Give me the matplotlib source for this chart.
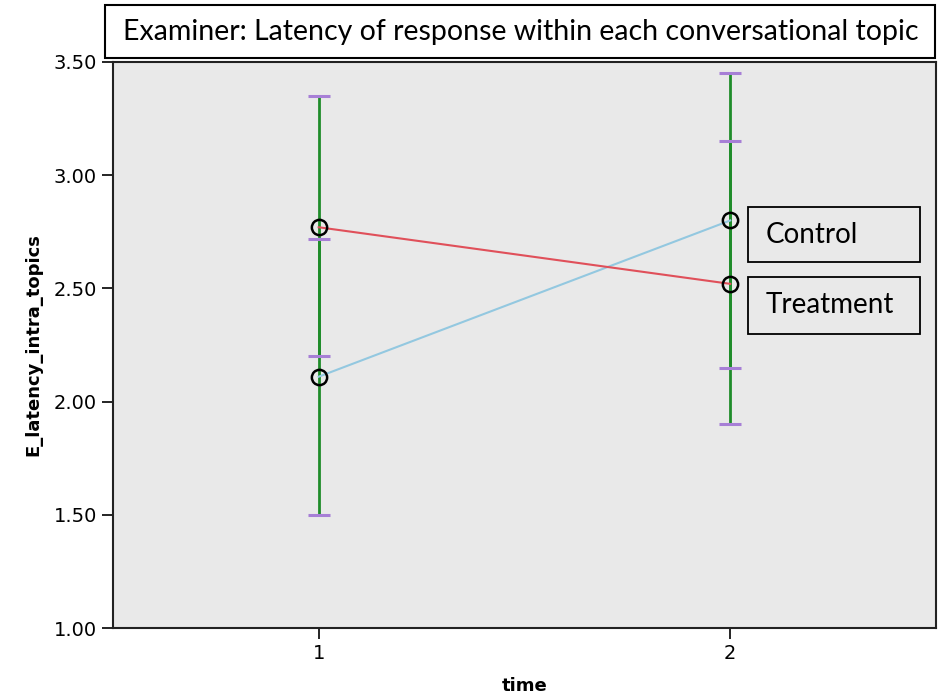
import matplotlib
matplotlib.use("Agg")
import matplotlib.pyplot as plt
from matplotlib.patches import Rectangle

time = [1, 2]
control_mean = [2.11, 2.80]
control_low = [1.50, 2.15]
control_high = [2.72, 3.45]
treatment_mean = [2.77, 2.52]
treatment_low = [2.20, 1.90]
treatment_high = [3.35, 3.15]
groups = ["Control", "Treatment"]
title = "Examiner: Latency of response within each conversational topic"
yticks = [1.00, 1.50, 2.00, 2.50, 3.00, 3.50]

plt.rcParams['font.family'] = ["DejaVu Sans"]

fig = plt.figure(figsize=(9.41, 6.94), dpi=100)
ax = fig.add_axes([0.120, 0.0951, 0.8747, 0.8156])
ax.set_facecolor("#e9e9e9")

green = "#1f8c2a"
purple = "#a77fd6"
for mean, lo, hi in [(control_mean, control_low, control_high),
                     (treatment_mean, treatment_low, treatment_high)]:
    ax.vlines(time, lo, hi, color=green, lw=2, zorder=2)
    ax.plot(time, lo, ls='none', marker='_', ms=16, mew=2.2, color=purple, zorder=3)
    ax.plot(time, hi, ls='none', marker='_', ms=16, mew=2.2, color=purple, zorder=3)

ax.plot(time, control_mean, color="#93c8e0", lw=1.5, zorder=4)
ax.plot(time, treatment_mean, color="#e0505a", lw=1.5, zorder=4)
ax.plot(time, control_mean, ls='none', marker='o', ms=11, mfc='none', mec='black', mew=1.8, zorder=5)
ax.plot(time, treatment_mean, ls='none', marker='o', ms=11, mfc='none', mec='black', mew=1.8, zorder=5)

ax.set_xlim(0.5, 2.5)
ax.set_ylim(1.0, 3.5)
ax.set_xticks(time)
ax.set_xticklabels([str(t) for t in time])
ax.set_yticks(yticks)
ax.set_yticklabels([f"{v:.2f}" for v in yticks])
ax.tick_params(direction='out', length=8, width=1.2, labelsize=14, colors='black')
for s in ax.spines.values():
    s.set_linewidth(1.5)
    s.set_color('#222222')

ax.set_xlabel("time", fontsize=13, fontweight='bold', labelpad=10)
ax.set_ylabel("E_latency_intra_topics", fontsize=13, fontweight='bold', labelpad=8)

# title box
fig.add_artist(Rectangle((0.1116, 0.9164), 0.8820, 0.0764, transform=fig.transFigure,
                         fc='white', ec='black', lw=1.5, zorder=10))
fig.text(0.5537, 0.9546, title, ha='center', va='center', fontsize=20.5,
         family=['Lato', 'DejaVu Sans'], zorder=11)

# group label boxes
for g, (yb, yt) in zip(groups, [(0.6225, 0.7017), (0.5187, 0.6009)]):
    fig.add_artist(Rectangle((0.7949, yb), 0.1828, yt - yb, transform=fig.transFigure,
                             fc='#e9e9e9', ec='black', lw=1.3, zorder=10))
    fig.text(0.814, (yb + yt) / 2, g, ha='left', va='center', fontsize=20,
             family=['Lato', 'DejaVu Sans'], zorder=11)

fig.savefig("out.png", dpi=100)
